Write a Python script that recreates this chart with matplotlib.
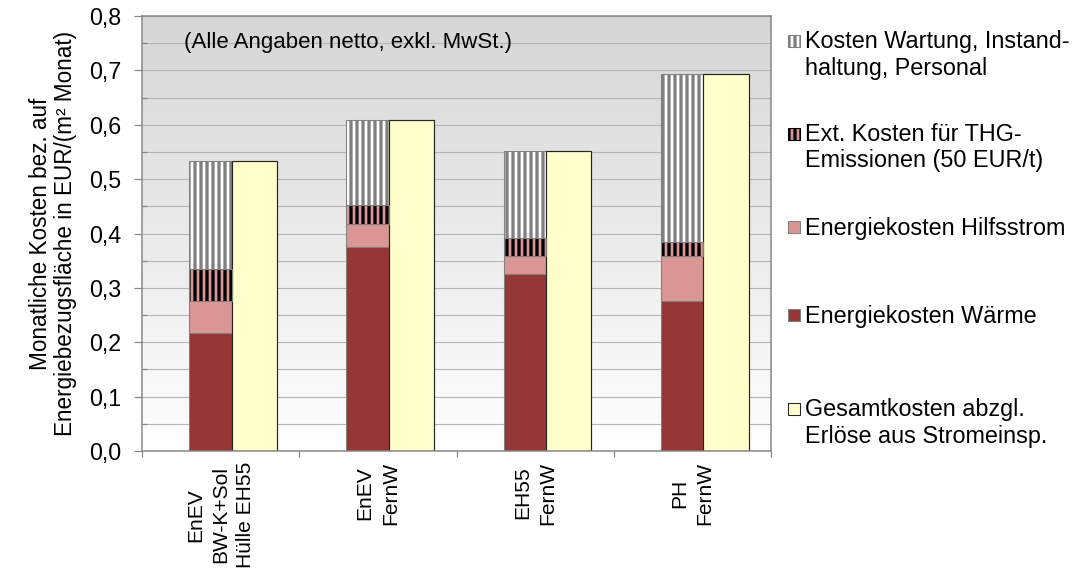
import numpy as np
import matplotlib
matplotlib.use("Agg")
import matplotlib.pyplot as plt
from matplotlib.patches import Rectangle
from matplotlib.colors import LinearSegmentedColormap

# --- data -------------------------------------------------------------
categories = ["EnEV\nBW-K+Sol\nHülle EH55", "EnEV\nFernW", "EH55\nFernW", "PH\nFernW"]
waerme = [0.217, 0.376, 0.325, 0.275]       # Energiekosten Wärme
hilfsstrom = [0.059, 0.042, 0.034, 0.083]   # Energiekosten Hilfsstrom
thg = [0.058, 0.034, 0.033, 0.026]          # Ext. Kosten THG-Emissionen
wartung = [0.200, 0.157, 0.159, 0.309]      # Wartung, Instandhaltung, Personal
gesamt = [0.534, 0.609, 0.551, 0.693]       # Gesamtkosten abzgl. Erlöse

legend_labels = [
    "Kosten Wartung, Instand-\nhaltung, Personal",
    "Ext. Kosten für THG-\nEmissionen (50 EUR/t)",
    "Energiekosten Hilfsstrom",
    "Energiekosten Wärme",
    "Gesamtkosten abzgl.\nErlöse aus Stromeinsp.",
]
y_ticks = [0.0, 0.1, 0.2, 0.3, 0.4, 0.5, 0.6, 0.7, 0.8]

# --- style ------------------------------------------------------------
DPI = 108
W, H = 1078, 579
plt.rcParams["font.family"] = ["Liberation Sans", "DejaVu Sans"]
plt.rcParams["hatch.linewidth"] = 2.2

C_WAERME = "#953735"
C_HILFS = "#d99694"
C_GESAMT = "#ffffcc"
C_EDGE = "#808080"
C_AXIS = "#868686"

fig = plt.figure(figsize=(W / DPI, H / DPI), dpi=DPI)
ax = fig.add_axes([142 / W, 1 - 451 / H, (771 - 142) / W, (451 - 16) / H])

# gradient plot background (grey on top, white at the bottom)
bg = LinearSegmentedColormap.from_list("bg", ["#d6d6d6", "#ffffff"])
ax.imshow(np.linspace(0, 1, 256).reshape(-1, 1), cmap=bg, aspect="auto",
          extent=[0, 1, 0, 1], transform=ax.transAxes, zorder=0,
          interpolation="bilinear")

x = np.arange(len(categories))
xs = x - 0.065
ws = 0.27
xg = x + 0.214
wg = 0.288

b1 = np.array(waerme)
b2 = b1 + np.array(hilfsstrom)
b3 = b2 + np.array(thg)

ax.bar(xs, waerme, ws, color=C_WAERME, edgecolor=C_EDGE, linewidth=0.7, zorder=2)
ax.bar(xs, hilfsstrom, ws, bottom=b1, color=C_HILFS, edgecolor=C_EDGE,
       linewidth=0.7, zorder=2)
ax.bar(xs, thg, ws, bottom=b2, color=C_HILFS, edgecolor="black",
       linewidth=0, hatch="|||", zorder=2)
ax.bar(xs, thg, ws, bottom=b2, fill=False, edgecolor=C_EDGE, linewidth=0.7,
       zorder=3)
ax.bar(xs, wartung, ws, bottom=b3, color="white", edgecolor=C_EDGE,
       linewidth=0.7, hatch="|||", zorder=2)
ax.bar(xg, gesamt, wg, color=C_GESAMT, edgecolor="#262626", linewidth=0.8,
       zorder=2)

# axes, ticks, grid
ax.set_xlim(-0.5, len(categories) - 0.5)
ax.set_ylim(0, 0.8)
ax.set_yticks(y_ticks)
ax.set_yticklabels([f"{v:.1f}".replace(".", ",") for v in y_ticks], fontsize=15.5)
ax.set_yticks(np.arange(0.05, 0.8, 0.1), minor=True)
ax.tick_params(axis="y", which="major", direction="out", length=5.3, width=0.8,
               color=C_AXIS, pad=8.5)
ax.tick_params(axis="y", which="minor", direction="in", length=3.5, width=0.8,
               color=C_AXIS)
ax.grid(axis="y", which="both", color="#b5b5b5", linewidth=0.75)
ax.set_axisbelow(True)

ax.set_xticks(x)
ax.set_xticklabels(categories, rotation=90, ha="center", va="top",
                   multialignment="center", fontsize=14, linespacing=1.42)
ax.set_xticks(np.arange(-0.5, len(categories)), minor=True)
ax.tick_params(axis="x", which="major", length=0, pad=7)
ax.tick_params(axis="x", which="minor", direction="out", length=4, width=0.8,
               color=C_AXIS)

for sp in ax.spines.values():
    sp.set_color(C_AXIS)
    sp.set_linewidth(1.0)

ax.set_ylabel("Monatliche Kosten bez. auf\nEnergiebezugsfläche in EUR/(m² Monat)",
              fontsize=15, labelpad=8, linespacing=1.1)

ax.text((184 - 142) / (771 - 142), (451 - 48) / (451 - 16),
        "(Alle Angaben netto, exkl. MwSt.)", transform=ax.transAxes,
        fontsize=14.8, va="baseline", ha="left", zorder=4)

# legend drawn beside the plot, markers aligned with the first text line
def fx(px):
    return px / W

def fy(py):
    return 1 - py / H

legend_styles = [
    dict(facecolor="white", edgecolor=C_EDGE, hatch="|||"),
    dict(facecolor=C_HILFS, edgecolor="black", hatch="|||"),
    dict(facecolor=C_HILFS, edgecolor=C_EDGE),
    dict(facecolor=C_WAERME, edgecolor=C_EDGE),
    dict(facecolor=C_GESAMT, edgecolor="#262626"),
]
line_centers = [41, 134, 227, 315, 409]
line_pitch = 25.5
msize = 12
for label, style, yc in zip(legend_labels, legend_styles, line_centers):
    rect = Rectangle((fx(788), fy(yc + msize / 2)), msize / W, msize / H,
                     transform=fig.transFigure, linewidth=0.7, **style)
    fig.add_artist(rect)
    nlines = label.count("\n") + 1
    # baseline of a multi-line text is that of its last line
    fig.text(fx(805), fy(yc + 8 + (nlines - 1) * line_pitch), label,
             fontsize=15.6, va="baseline", ha="left", linespacing=1.19)

fig.savefig("out.png", dpi=DPI)
